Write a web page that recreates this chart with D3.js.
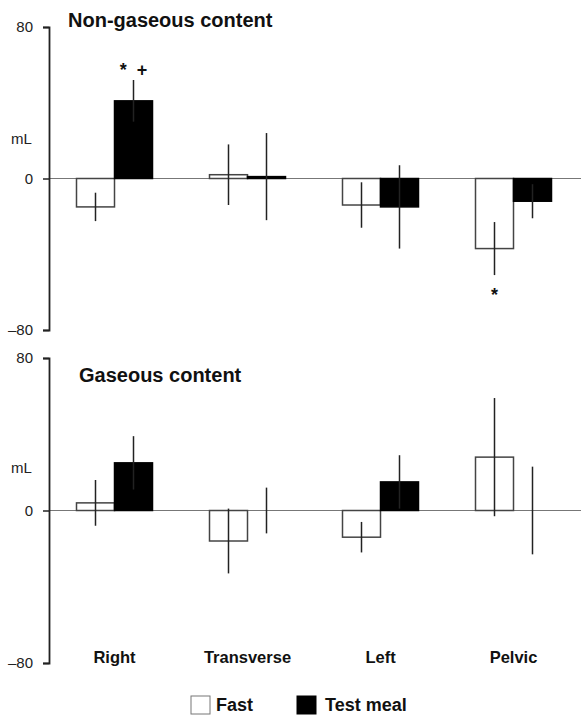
<!DOCTYPE html>
<html>
<head>
<meta charset="utf-8">
<script src="https://cdn.jsdelivr.net/npm/d3@7"></script>
<style>
  body { margin: 0; background: #fff; }
  svg { display: block; font-family: Arial, "Liberation Sans", sans-serif; }
</style>
</head>
<body>
<div id="chart"></div>
<script>
const width = 581;
const height = 718;

// data (mL, mean and error)
const categories = ['Right', 'Transverse', 'Left', 'Pelvic'];
const series = ['Fast', 'Test meal'];

const nonGasFast = [-15, 2, -14, -37];
const nonGasFastErr = [7.5, 16, 12, 14];
const nonGasMeal = [41, 1, -15, -12];
const nonGasMealErr = [11, 23, 22, 9];

const gasFast = [4, -16, -14, 28];
const gasFastErr = [12, 17, 8, 31];
const gasMeal = [25, 0, 15, 0];
const gasMealErr = [14, 12, 14, 23];

const yTicks = [-80, 0, 80];

const svg = d3.select('#chart').append('svg').attr('width', width).attr('height', height);

const x = d3.scaleBand().domain(categories).range([48, 580]);
const xInner = d3.scaleBand().domain(series).range([0, x.bandwidth()]).paddingOuter(0.75);

function drawPanel(opts) {
  const y = d3.scaleLinear().domain([-80, 80]).range([opts.bottom, opts.top]);
  const g = svg.append('g');

  // zero line
  g.append('line')
    .attr('x1', 49).attr('x2', width)
    .attr('y1', y(0)).attr('y2', y(0))
    .attr('stroke', '#777').attr('stroke-width', 1.2);

  // axis
  const axis = g.append('g')
    .attr('transform', 'translate(49,0)')
    .call(d3.axisLeft(y).tickValues(yTicks).tickSize(6).tickPadding(10)
      .tickFormat(d => d < 0 ? '\u2013' + Math.abs(d) : d));
  axis.select('.domain').attr('stroke', '#222').attr('stroke-width', 1.8);
  axis.selectAll('.tick line').attr('stroke', '#222').attr('stroke-width', 1.5);
  axis.selectAll('.tick text').attr('font-size', 15).attr('fill', '#222');

  g.append('text')
    .attr('x', 11).attr('y', y(0) - opts.mlOffset)
    .attr('font-size', 15).attr('fill', '#222')
    .text('mL');

  g.append('text')
    .attr('x', opts.titleX).attr('y', opts.titleY)
    .attr('font-size', 20).attr('font-weight', 'bold').attr('fill', '#111')
    .text(opts.title);

  const rows = [];
  categories.forEach((c, i) => {
    rows.push({ cat: c, s: 'Fast', v: opts.fast[i], e: opts.fastErr[i] });
    rows.push({ cat: c, s: 'Test meal', v: opts.meal[i], e: opts.mealErr[i] });
  });

  g.selectAll('.bar')
    .data(rows)
    .enter()
    .append('rect')
    .attr('class', 'bar')
    .attr('x', d => x(d.cat) + xInner(d.s))
    .attr('width', xInner.bandwidth())
    .attr('y', d => y(Math.max(0, d.v)))
    .attr('height', d => Math.abs(y(d.v) - y(0)))
    .attr('fill', d => d.s === 'Fast' ? '#fff' : '#000')
    .attr('stroke', d => d.s === 'Fast' ? '#444' : '#000')
    .attr('stroke-width', 1.5);

  g.selectAll('.err')
    .data(rows)
    .enter()
    .append('line')
    .attr('class', 'err')
    .attr('x1', d => x(d.cat) + xInner(d.s) + xInner.bandwidth() / 2)
    .attr('x2', d => x(d.cat) + xInner(d.s) + xInner.bandwidth() / 2)
    .attr('y1', d => y(d.v + d.e))
    .attr('y2', d => y(d.v - d.e))
    .attr('stroke', '#222').attr('stroke-width', 1.5);

  // significance marks
  (opts.marks || []).forEach(m => {
    const idx = categories.indexOf(m.cat);
    const val = m.s === 'Fast' ? opts.fast[idx] : opts.meal[idx];
    const err = m.s === 'Fast' ? opts.fastErr[idx] : opts.mealErr[idx];
    const cx = x(m.cat) + xInner(m.s) + xInner.bandwidth() / 2;
    const yy = val >= 0 ? y(val + err) - 4 : y(val - err) + 26;
    g.append('text')
      .attr('x', cx).attr('y', yy)
      .attr('text-anchor', 'middle')
      .attr('font-size', 18).attr('font-weight', 'bold').attr('fill', '#111')
      .attr('xml:space', 'preserve')
      .text(m.label);
  });

  return y;
}

drawPanel({
  top: 27, bottom: 330, title: 'Non-gaseous content', titleX: 68, titleY: 27, mlOffset: 35,
  fast: nonGasFast, fastErr: nonGasFastErr, meal: nonGasMeal, mealErr: nonGasMealErr,
  marks: [{ cat: 'Right', s: 'Test meal', label: '*  +' }, { cat: 'Pelvic', s: 'Fast', label: '*' }]
});

drawPanel({
  top: 358, bottom: 663, title: 'Gaseous content', titleX: 79, titleY: 382, mlOffset: 38,
  fast: gasFast, fastErr: gasFastErr, meal: gasMeal, mealErr: gasMealErr
});

// category labels
svg.selectAll('.cat')
  .data(categories)
  .enter()
  .append('text')
  .attr('class', 'cat')
  .attr('x', d => x(d) + x.bandwidth() / 2)
  .attr('y', 663)
  .attr('text-anchor', 'middle')
  .attr('font-size', 16.5).attr('font-weight', 'bold').attr('fill', '#111')
  .text(d => d);

// legend
const legendX = [191, 297];
const legend = svg.selectAll('.legend')
  .data(series)
  .enter()
  .append('g')
  .attr('class', 'legend')
  .attr('transform', (d, i) => `translate(${legendX[i]},696)`);

legend.append('rect')
  .attr('width', 19).attr('height', 18)
  .attr('fill', d => d === 'Fast' ? '#fff' : '#000')
  .attr('stroke', d => d === 'Fast' ? '#777' : '#000')
  .attr('stroke-width', 1);

legend.append('text')
  .attr('x', d => d === 'Fast' ? 25 : 28).attr('y', 15)
  .attr('font-size', 18).attr('font-weight', 'bold').attr('fill', '#111')
  .text(d => d);
</script>
</body>
</html>
